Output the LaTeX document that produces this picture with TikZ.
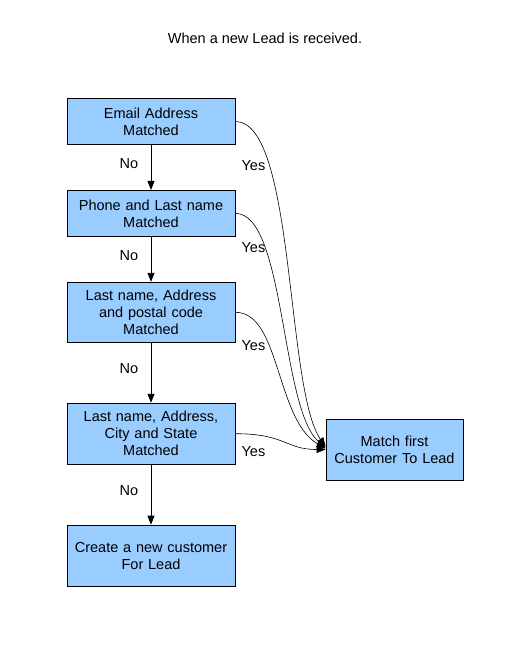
\documentclass[tikz,border=0pt]{standalone}
\usepackage{fontspec}
\setmainfont{Liberation Sans}
\usetikzlibrary{positioning,calc,arrows.meta}
\definecolor{boxblue}{RGB}{153,204,255}

\begin{document}
\begin{tikzpicture}[x=1pt,y=-1pt,node distance=45pt,
  font=\fontsize{14.5}{17}\selectfont,
  check/.style={draw,fill=boxblue,line width=0.9pt,minimum width=168pt,
    minimum height=46pt,text width=160pt,align=center,inner sep=2pt},
  flow/.style={-{Triangle[length=9pt,width=7pt]},line width=0.8pt},
  yes/.style={-{Triangle[length=9pt,width=7pt]},line width=0.6pt}]
    \useasboundingbox (0,0) rectangle (513,667);
    \node (title) at (265,38) {When a new Lead is received.};
    \node[check] (email) at (151,121.5) {Email Address\\Matched};
    \node[check, below = of email] (phone) {Phone and Last name\\Matched};
    \node[check, below = of phone, minimum height=60pt] (postal) {Last name, Address\\and postal code\\Matched};
    \node[check, below = 60pt of postal, minimum height=61pt] (city) {Last name, Address,\\City and State\\Matched};
    \node[check, below = 60pt of city, minimum height=61pt] (create) {Create a new customer\\For Lead};
    \node[check, minimum width=137pt, text width=130pt, minimum height=61pt] (match) at (394.5,449.5) {Match first\\Customer To Lead};
    \coordinate (tip) at (match.west);
    %
    \draw[flow] (email) -- node[midway, left=9pt, yshift=4pt]{No} (phone);
    \draw[flow] (phone) -- node[midway, left=9pt, yshift=4pt]{No} (postal);
    \draw[flow] (postal) -- node[midway, left=9pt, yshift=4pt]{No} (city);
    \draw[flow] (city) -- node[midway, left=9pt, yshift=4pt]{No} (create);
    %
    \draw[yes] (email.east) .. controls ($(email.east)+(60,0)$) and ($(tip)+(-40,-60)$) .. ($(tip)+(0,-3)$);
    \draw[yes] (phone.east) .. controls ($(phone.east)+(50,0)$) and ($(tip)+(-45,-40)$) .. ($(tip)+(0,-2)$);
    \draw[yes] (postal.east) .. controls ($(postal.east)+(45,0)$) and ($(tip)+(-50,-30)$) .. ($(tip)+(0,-1)$);
    \draw[yes] (city.east) .. controls ($(city.east)+(50,0)$) and ($(tip)+(-40,0)$) .. (tip);
    %
    \node (yes1) at ($(email.east)+(18,44)$) {Yes};
    \node (yes2) at ($(phone.east)+(18,34)$) {Yes};
    \node (yes3) at ($(postal.east)+(18,33)$) {Yes};
    \node (yes4) at ($(city.east)+(18,18)$) {Yes};
\end{tikzpicture}
\end{document}
